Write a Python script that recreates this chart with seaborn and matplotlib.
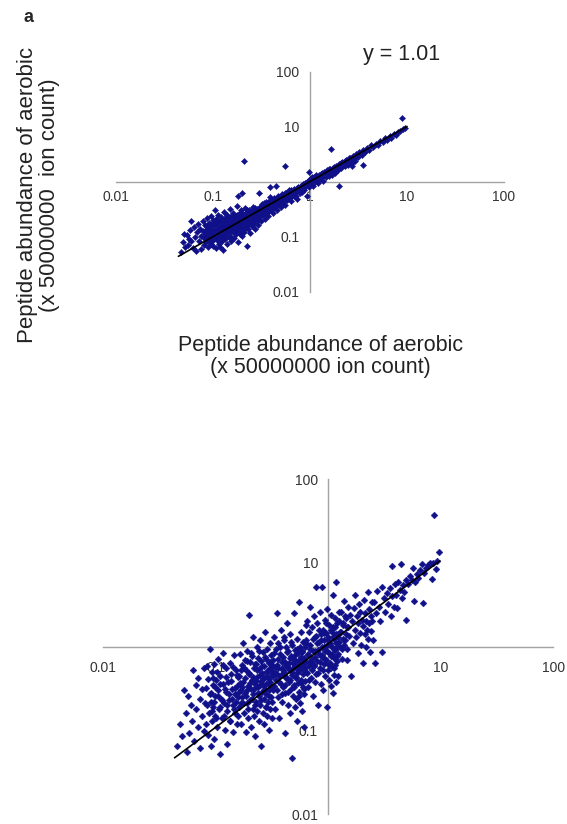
import pandas as pd
import matplotlib
matplotlib.use("Agg")
import matplotlib.pyplot as plt
import matplotlib.ticker as mticker
import seaborn as sns

sns.set_style("white")
plt.rcParams['font.family'] = ['Liberation Sans', 'DejaVu Sans']

# ---- panel a (top): peptide abundance pairs ----
top_low = [(0.047, 0.052), (0.049, 0.080), (0.050, 0.110), (0.052, 0.066), (0.054, 0.108),
           (0.055, 0.072), (0.057, 0.090), (0.058, 0.130), (0.060, 0.195), (0.060, 0.085),
           (0.062, 0.062), (0.064, 0.150), (0.065, 0.100), (0.067, 0.056), (0.068, 0.120),
           (0.070, 0.170), (0.071, 0.082), (0.073, 0.140), (0.075, 0.060), (0.076, 0.105),
           (0.078, 0.190), (0.079, 0.125), (0.081, 0.072), (0.082, 0.160), (0.083, 0.110),
           (0.085, 0.092), (0.086, 0.220), (0.088, 0.140), (0.089, 0.064), (0.090, 0.120),
           (0.091, 0.175), (0.093, 0.082), (0.094, 0.150), (0.096, 0.240), (0.097, 0.100),
           (0.098, 0.130), (0.099, 0.068), (0.100, 0.200), (0.100, 0.115), (0.100, 0.088)]
top_core = [(0.102, 0.160), (0.104, 0.300), (0.105, 0.095), (0.106, 0.135), (0.107, 0.062),
            (0.108, 0.210), (0.110, 0.120), (0.111, 0.175), (0.112, 0.082), (0.113, 0.250),
            (0.115, 0.145), (0.116, 0.105), (0.117, 0.190), (0.118, 0.065), (0.120, 0.135),
            (0.121, 0.230), (0.122, 0.110), (0.124, 0.165), (0.125, 0.085), (0.126, 0.200),
            (0.127, 0.058), (0.128, 0.150), (0.130, 0.280), (0.131, 0.120), (0.132, 0.180),
            (0.134, 0.095), (0.135, 0.215), (0.137, 0.140), (0.138, 0.075), (0.140, 0.170),
            (0.141, 0.250), (0.143, 0.125), (0.145, 0.195), (0.146, 0.100), (0.148, 0.155),
            (0.150, 0.320), (0.151, 0.230), (0.153, 0.135), (0.155, 0.085), (0.156, 0.180),
            (0.158, 0.210), (0.160, 0.120), (0.162, 0.270), (0.164, 0.160), (0.165, 0.095),
            (0.167, 0.195), (0.169, 0.140), (0.171, 0.240), (0.173, 0.110), (0.175, 0.175),
            (0.177, 0.360), (0.179, 0.210), (0.181, 0.150), (0.183, 0.080), (0.185, 0.260),
            (0.187, 0.185), (0.190, 0.125), (0.192, 0.225), (0.194, 0.165), (0.196, 0.300),
            (0.198, 0.105), (0.200, 0.200), (0.203, 0.150), (0.205, 0.250), (0.208, 0.175),
            (0.210, 0.120), (0.212, 0.330), (0.215, 0.220), (0.218, 0.160), (0.220, 0.270),
            (0.223, 0.067), (0.225, 0.190), (0.228, 0.140), (0.230, 0.240), (0.233, 0.300),
            (0.236, 0.175), (0.240, 0.210), (0.243, 0.115), (0.246, 0.260), (0.250, 0.190),
            (0.253, 0.155), (0.256, 0.350), (0.260, 0.230), (0.264, 0.180), (0.268, 0.280),
            (0.272, 0.140), (0.276, 0.215), (0.280, 0.250), (0.284, 0.320), (0.288, 0.200),
            (0.292, 0.165), (0.296, 0.270), (0.200, 0.630), (0.180, 0.540)]
top_mid = [(0.300, 0.230), (0.305, 0.340), (0.310, 0.280), (0.315, 0.190), (0.320, 0.400),
           (0.325, 0.300), (0.330, 0.250), (0.336, 0.360), (0.342, 0.210), (0.348, 0.320),
           (0.354, 0.430), (0.360, 0.290), (0.366, 0.370), (0.372, 0.240), (0.378, 0.330),
           (0.384, 0.520), (0.390, 0.400), (0.397, 0.300), (0.404, 0.360), (0.411, 0.450),
           (0.418, 0.270), (0.425, 0.380), (0.432, 0.470), (0.440, 0.350), (0.448, 0.420),
           (0.456, 0.310), (0.464, 0.560), (0.472, 0.440), (0.480, 0.380), (0.489, 0.500),
           (0.498, 0.420), (0.507, 0.340), (0.516, 0.600), (0.525, 0.480), (0.535, 0.440),
           (0.545, 0.540), (0.555, 0.380), (0.565, 0.620), (0.575, 0.520), (0.586, 0.470),
           (0.597, 0.560), (0.608, 0.700), (0.619, 0.500), (0.630, 0.580), (0.642, 0.440),
           (0.654, 0.660), (0.666, 0.600), (0.678, 0.540), (0.690, 0.750), (0.703, 0.630),
           (0.716, 0.560), (0.729, 0.700), (0.742, 0.480), (0.756, 0.800), (0.770, 0.690),
           (0.784, 0.620), (0.798, 0.850), (0.813, 0.740), (0.828, 0.660), (0.843, 0.900),
           (0.858, 0.800), (0.874, 0.720), (0.890, 0.960), (0.906, 0.840), (0.923, 0.560),
           (0.940, 1.000), (0.957, 0.880), (0.975, 0.800), (0.993, 1.100), (0.390, 0.790),
           (0.450, 0.850), (0.300, 0.620)]
top_dense = [(0.080, 0.095), (0.082, 0.125), (0.084, 0.080), (0.086, 0.150), (0.088, 0.105),
             (0.090, 0.085), (0.092, 0.160), (0.094, 0.115), (0.096, 0.075), (0.098, 0.170),
             (0.101, 0.125), (0.103, 0.090), (0.106, 0.180), (0.108, 0.135), (0.110, 0.100),
             (0.113, 0.155), (0.115, 0.075), (0.117, 0.205), (0.119, 0.128), (0.122, 0.095),
             (0.124, 0.185), (0.126, 0.140), (0.129, 0.105), (0.131, 0.160), (0.133, 0.090),
             (0.136, 0.230), (0.138, 0.165), (0.141, 0.115), (0.143, 0.150), (0.146, 0.205),
             (0.148, 0.120), (0.151, 0.175), (0.154, 0.100), (0.157, 0.240), (0.160, 0.150),
             (0.163, 0.190), (0.166, 0.120), (0.169, 0.225), (0.172, 0.165), (0.175, 0.135),
             (0.178, 0.250), (0.182, 0.190), (0.185, 0.145), (0.189, 0.215), (0.192, 0.110),
             (0.196, 0.280), (0.200, 0.175), (0.204, 0.230), (0.208, 0.140), (0.212, 0.260),
             (0.216, 0.195), (0.220, 0.155), (0.225, 0.300), (0.229, 0.215), (0.234, 0.170),
             (0.238, 0.270), (0.243, 0.200), (0.248, 0.230), (0.253, 0.300), (0.258, 0.180),
             (0.263, 0.260), (0.268, 0.215), (0.274, 0.330), (0.279, 0.240), (0.285, 0.200),
             (0.291, 0.300), (0.297, 0.230), (0.303, 0.270), (0.310, 0.360), (0.317, 0.250),
             (0.324, 0.330), (0.331, 0.280), (0.339, 0.410), (0.346, 0.300), (0.354, 0.360),
             (0.362, 0.270), (0.370, 0.420), (0.378, 0.350), (0.387, 0.310), (0.396, 0.460),
             (0.405, 0.380), (0.415, 0.330), (0.425, 0.500), (0.435, 0.410), (0.446, 0.370),
             (0.457, 0.470), (0.468, 0.400), (0.480, 0.520), (0.492, 0.450), (0.505, 0.560),
             (0.518, 0.470), (0.532, 0.420), (0.546, 0.610), (0.560, 0.500), (0.575, 0.560),
             (0.590, 0.650), (0.606, 0.540), (0.622, 0.620), (0.639, 0.700), (0.656, 0.580),
             (0.674, 0.650), (0.692, 0.720), (0.711, 0.640), (0.731, 0.780), (0.751, 0.700),
             (0.772, 0.760), (0.794, 0.690), (0.816, 0.820), (0.839, 0.760), (0.862, 0.880),
             (0.886, 0.810), (0.911, 0.930), (0.937, 0.870), (0.963, 1.020), (0.990, 0.930)]
top_high = [(1.02, 0.95), (1.04, 1.20), (1.06, 1.05), (1.08, 0.85), (1.10, 1.15), (1.13, 1.00),
            (1.15, 1.30), (1.18, 1.10), (1.20, 0.95), (1.23, 1.25), (1.26, 1.12), (1.29, 1.40),
            (1.32, 1.20), (1.35, 1.05), (1.38, 1.50), (1.41, 1.30), (1.45, 1.20), (1.48, 1.60),
            (1.52, 1.40), (1.56, 1.25), (1.60, 1.70), (1.64, 1.50), (1.68, 1.35), (1.72, 1.80),
            (1.76, 1.60), (1.80, 1.45), (1.85, 1.95), (1.90, 1.75), (1.95, 1.60), (2.00, 2.10),
            (2.05, 1.90), (2.10, 1.75), (2.16, 2.30), (2.22, 2.05), (2.28, 1.90), (2.34, 2.50),
            (2.40, 2.25), (2.47, 2.05), (2.54, 2.70), (2.61, 2.40), (2.68, 2.20), (2.76, 2.90),
            (2.84, 2.60), (2.92, 2.40), (1.01, 1.08), (1.05, 0.98), (1.09, 1.20), (1.12, 1.08),
            (1.17, 1.22), (1.21, 1.10), (1.25, 1.35), (1.30, 1.25), (1.34, 1.42), (1.40, 1.35),
            (1.46, 1.52), (1.51, 1.45), (1.57, 1.68), (1.63, 1.58), (1.70, 1.62), (1.78, 1.85),
            (1.87, 1.80), (1.97, 2.00), (2.07, 2.15), (2.19, 2.12), (2.31, 2.35), (2.45, 2.40),
            (2.60, 2.65), (2.80, 2.75)]
top_tail = [(3.0, 3.2), (3.1, 2.8), (3.2, 3.5), (3.4, 3.1), (3.5, 3.8), (3.7, 3.4), (3.9, 4.1),
            (4.1, 3.7), (4.3, 4.6), (4.5, 4.2), (4.8, 4.9), (5.0, 4.6), (5.3, 5.5), (5.6, 5.2),
            (5.9, 6.1), (6.2, 5.7), (6.6, 6.9), (6.9, 6.2), (7.3, 7.4), (7.7, 7.2), (8.1, 8.0),
            (8.5, 8.3), (9.1, 9.2), (9.5, 9.6)]
top_outliers = [(0.21, 2.4), (0.55, 1.9), (0.98, 1.5), (1.63, 3.9), (2.0, 0.82), (2.7, 1.9),
                (3.5, 1.98), (8.8, 14.4)]
top_fit_x = [0.044, 10.0]
top_fit_y = [0.044, 10.1]

# ---- bottom panel ----
bot_left = [(0.045, 0.065), (0.048, 0.12), (0.050, 0.085), (0.052, 0.30), (0.054, 0.16),
            (0.055, 0.055), (0.057, 0.26), (0.058, 0.093), (0.060, 0.20), (0.061, 0.13),
            (0.063, 0.53), (0.064, 0.075), (0.066, 0.35), (0.067, 0.18), (0.069, 0.11),
            (0.070, 0.42), (0.072, 0.062), (0.073, 0.24), (0.075, 0.15), (0.076, 0.31),
            (0.078, 0.098), (0.079, 0.55), (0.080, 0.21)]
bot_low = [(0.081, 0.32), (0.082, 0.12), (0.083, 0.58), (0.084, 0.20), (0.085, 0.088),
           (0.086, 0.41), (0.087, 0.16), (0.088, 0.27), (0.089, 0.93), (0.090, 0.065),
           (0.091, 0.22), (0.092, 0.50), (0.093, 0.13), (0.094, 0.35), (0.095, 0.19),
           (0.096, 0.078), (0.097, 0.62), (0.098, 0.26), (0.099, 0.15), (0.100, 0.40),
           (0.102, 0.11), (0.104, 0.30), (0.105, 0.72), (0.107, 0.18), (0.108, 0.052),
           (0.110, 0.45), (0.112, 0.24), (0.113, 0.14), (0.115, 0.36), (0.117, 0.85),
           (0.118, 0.21), (0.120, 0.10), (0.122, 0.55), (0.124, 0.29), (0.125, 0.17),
           (0.127, 0.068), (0.129, 0.38), (0.131, 0.23), (0.133, 0.64), (0.135, 0.13),
           (0.137, 0.47), (0.139, 0.31), (0.141, 0.20), (0.143, 0.095), (0.145, 0.80),
           (0.147, 0.27), (0.149, 0.16), (0.151, 0.52), (0.153, 0.34), (0.155, 0.12),
           (0.157, 0.43), (0.159, 0.25)]
bot_core = [(0.160, 0.45), (0.162, 0.19), (0.164, 0.82), (0.166, 0.30), (0.168, 0.12),
            (0.170, 0.60), (0.172, 0.25), (0.174, 1.1), (0.176, 0.38), (0.178, 0.16),
            (0.180, 0.70), (0.182, 0.28), (0.184, 0.095), (0.186, 0.52), (0.188, 0.21),
            (0.190, 0.90), (0.192, 0.34), (0.194, 0.14), (0.196, 0.47), (0.198, 2.4),
            (0.200, 0.23), (0.202, 0.65), (0.204, 0.31), (0.206, 0.11), (0.208, 0.78),
            (0.210, 0.40), (0.212, 0.18), (0.214, 1.3), (0.216, 0.27), (0.218, 0.56),
            (0.220, 0.15), (0.222, 0.36), (0.224, 0.085), (0.226, 0.62), (0.228, 0.22),
            (0.230, 0.99), (0.232, 0.43), (0.234, 0.17), (0.236, 0.33), (0.238, 0.74),
            (0.240, 0.26), (0.242, 0.13), (0.244, 0.54), (0.246, 0.20), (0.248, 1.2),
            (0.250, 0.39), (0.252, 0.065), (0.254, 0.68), (0.256, 0.29), (0.258, 0.48),
            (0.260, 0.16), (0.262, 0.87), (0.264, 0.35), (0.266, 0.24), (0.268, 0.58),
            (0.270, 0.12), (0.272, 0.44), (0.274, 1.5), (0.276, 0.31), (0.278, 0.19),
            (0.280, 0.72), (0.282, 0.27), (0.284, 0.51), (0.286, 0.15), (0.288, 0.95),
            (0.290, 0.37), (0.292, 0.22), (0.294, 0.64), (0.296, 0.10), (0.298, 0.41),
            (0.300, 0.30), (0.302, 1.1), (0.304, 0.18), (0.306, 0.55), (0.308, 0.25),
            (0.310, 0.80), (0.312, 0.34), (0.314, 0.14), (0.316, 0.60), (0.318, 0.47)]
bot_mid = [(0.320, 0.70), (0.324, 0.30), (0.328, 1.3), (0.332, 0.48), (0.336, 0.18),
           (0.340, 0.95), (0.344, 0.40), (0.348, 2.5), (0.352, 0.60), (0.356, 0.25),
           (0.360, 1.1), (0.364, 0.45), (0.368, 0.14), (0.372, 0.82), (0.376, 0.36),
           (0.380, 1.6), (0.384, 0.55), (0.388, 0.22), (0.392, 0.75), (0.396, 0.33),
           (0.400, 1.2), (0.404, 0.50), (0.408, 0.092), (0.412, 0.66), (0.416, 0.28),
           (0.420, 1.0), (0.424, 0.42), (0.428, 1.9), (0.432, 0.58), (0.436, 0.20),
           (0.440, 0.88), (0.444, 0.38), (0.448, 0.63), (0.452, 0.16), (0.456, 1.4),
           (0.460, 0.52), (0.464, 0.31), (0.468, 0.78), (0.472, 0.047), (0.476, 0.46),
           (0.480, 1.05), (0.484, 0.26), (0.488, 0.72), (0.492, 0.35), (0.496, 2.5),
           (0.500, 0.57), (0.504, 0.19), (0.508, 0.92), (0.512, 0.43), (0.516, 0.68),
           (0.520, 0.24), (0.524, 1.25), (0.528, 0.49), (0.532, 0.13), (0.536, 0.84),
           (0.540, 0.37), (0.544, 0.60), (0.548, 3.4), (0.552, 0.29), (0.556, 0.98),
           (0.560, 0.53), (0.564, 0.21), (0.568, 0.76), (0.572, 0.40), (0.576, 1.5),
           (0.580, 0.62), (0.584, 0.17), (0.588, 0.86), (0.592, 0.33), (0.596, 1.15),
           (0.600, 0.47), (0.604, 0.27), (0.608, 0.70), (0.612, 0.11), (0.616, 1.0),
           (0.620, 0.56), (0.624, 0.39), (0.628, 1.8)]
bot_upper = [(0.630, 1.1), (0.638, 0.50), (0.646, 2.0), (0.654, 0.80), (0.662, 0.33),
             (0.670, 1.5), (0.678, 0.65), (0.686, 3.0), (0.694, 0.95), (0.702, 0.42),
             (0.710, 1.7), (0.718, 0.72), (0.726, 0.26), (0.734, 1.25), (0.742, 0.58),
             (0.750, 2.3), (0.758, 0.88), (0.766, 0.38), (0.774, 1.35), (0.782, 5.1),
             (0.790, 0.68), (0.798, 1.9), (0.806, 0.48), (0.814, 0.20), (0.822, 1.15),
             (0.830, 0.82), (0.838, 2.6), (0.846, 0.55), (0.854, 1.4), (0.862, 0.36),
             (0.870, 1.0), (0.878, 5.1), (0.886, 0.75), (0.894, 1.6), (0.902, 0.30),
             (0.910, 1.2), (0.918, 0.62), (0.926, 2.1), (0.934, 0.90), (0.942, 0.45),
             (0.950, 1.45), (0.958, 0.70), (0.966, 0.19), (0.974, 1.05), (0.982, 2.8),
             (0.990, 0.52), (0.998, 1.3), (1.006, 0.85), (1.014, 0.40), (1.022, 1.8),
             (1.030, 0.64), (1.038, 1.1), (1.046, 0.34), (1.054, 2.4), (1.062, 0.78),
             (1.070, 1.5), (1.078, 0.57), (1.086, 0.98), (1.094, 0.28), (1.102, 1.7),
             (1.110, 4.2), (1.118, 0.73), (1.126, 1.25), (1.134, 0.46), (1.142, 2.2),
             (1.150, 0.92), (1.158, 0.60), (1.166, 1.4), (1.174, 0.38), (1.182, 5.9),
             (1.190, 1.0), (1.198, 0.67), (1.206, 1.9), (1.214, 0.45), (1.222, 1.3),
             (1.230, 0.82), (1.238, 2.6), (1.246, 1.15)]
bot_dense = [(0.090, 0.28), (0.092, 0.17), (0.094, 0.42), (0.096, 0.22), (0.098, 0.33),
             (0.100, 0.14), (0.103, 0.50), (0.105, 0.26), (0.108, 0.19), (0.110, 0.36),
             (0.113, 0.23), (0.116, 0.60), (0.118, 0.15), (0.121, 0.31), (0.124, 0.44),
             (0.127, 0.20), (0.130, 0.27), (0.133, 0.13), (0.136, 0.39), (0.139, 0.24),
             (0.142, 0.57), (0.145, 0.18), (0.148, 0.32), (0.151, 0.22), (0.154, 0.46),
             (0.157, 0.15), (0.160, 0.29), (0.163, 0.37), (0.166, 0.21), (0.169, 0.53),
             (0.172, 0.33), (0.175, 0.21), (0.178, 0.55), (0.181, 0.42), (0.184, 0.26),
             (0.188, 0.68), (0.191, 0.30), (0.195, 0.18), (0.198, 0.48), (0.202, 0.37),
             (0.206, 0.85), (0.209, 0.24), (0.213, 0.44), (0.217, 0.31), (0.221, 0.62),
             (0.225, 0.20), (0.229, 0.39), (0.233, 0.53), (0.237, 0.28), (0.241, 0.90),
             (0.245, 0.35), (0.249, 0.46), (0.254, 0.23), (0.258, 0.59), (0.263, 0.41),
             (0.267, 0.30), (0.272, 0.75), (0.277, 0.36), (0.281, 0.19), (0.286, 0.50),
             (0.291, 0.43), (0.296, 0.26), (0.301, 0.66), (0.306, 0.38), (0.311, 0.52),
             (0.316, 0.22), (0.321, 0.45), (0.326, 0.83), (0.331, 0.34), (0.336, 0.57),
             (0.342, 0.48), (0.348, 0.30), (0.354, 0.72), (0.360, 0.55), (0.366, 0.38),
             (0.372, 1.0), (0.378, 0.46), (0.384, 0.27), (0.391, 0.65), (0.397, 0.52),
             (0.404, 1.3), (0.410, 0.35), (0.417, 0.60), (0.424, 0.44), (0.431, 0.86),
             (0.438, 0.29), (0.446, 0.54), (0.453, 0.73), (0.461, 0.40), (0.469, 1.15),
             (0.477, 0.50), (0.485, 0.63), (0.493, 0.33), (0.501, 0.80), (0.510, 0.58),
             (0.518, 0.42), (0.527, 0.95), (0.536, 0.52), (0.545, 0.26), (0.554, 0.70),
             (0.564, 0.61), (0.573, 0.37), (0.583, 0.90), (0.593, 0.55), (0.603, 0.74),
             (0.613, 0.31), (0.624, 0.63), (0.634, 1.2), (0.645, 0.48), (0.656, 0.81),
             (0.667, 0.58), (0.679, 0.40), (0.690, 1.05), (0.702, 0.66), (0.714, 0.52),
             (0.726, 0.88), (0.740, 0.60), (0.754, 1.3), (0.768, 0.75), (0.782, 0.47),
             (0.797, 1.1), (0.812, 0.92), (0.827, 1.6), (0.842, 0.66), (0.858, 1.2),
             (0.874, 0.80), (0.890, 0.52), (0.907, 1.45), (0.924, 1.0), (0.941, 0.72),
             (0.959, 1.9), (0.977, 0.88), (0.995, 1.2), (1.014, 0.60), (1.033, 1.05),
             (1.052, 1.6), (1.072, 0.82), (1.092, 1.3), (1.112, 0.95), (1.133, 0.55),
             (1.154, 1.7), (1.176, 1.1), (1.198, 0.78), (1.220, 1.4), (1.243, 2.0),
             (1.266, 1.0), (1.290, 1.5), (1.314, 0.72), (1.339, 1.25), (1.364, 1.8),
             (1.389, 1.05), (1.415, 2.3), (1.442, 1.4), (1.469, 0.95), (1.496, 1.7)]
bot_high = [(1.26, 1.5), (1.29, 2.6), (1.32, 0.95), (1.34, 1.9), (1.37, 3.5), (1.40, 1.2),
            (1.43, 2.2), (1.46, 0.70), (1.48, 1.7), (1.51, 3.0), (1.54, 1.35), (1.57, 2.4),
            (1.60, 0.45), (1.62, 2.0), (1.65, 1.1), (1.68, 2.9), (1.71, 1.6), (1.74, 4.2),
            (1.76, 1.3), (1.79, 2.3), (1.82, 0.85), (1.85, 1.9), (1.88, 3.2), (1.90, 1.45),
            (1.93, 2.6), (1.96, 1.05), (1.99, 2.1), (2.02, 0.63), (2.04, 1.75), (2.07, 3.6),
            (2.10, 1.4), (2.13, 2.5), (2.16, 0.98), (2.18, 2.0), (2.21, 1.6), (2.24, 4.5),
            (2.27, 1.25), (2.30, 2.8), (2.32, 1.9), (2.35, 0.87), (2.38, 2.3), (2.41, 1.55),
            (2.44, 3.4), (2.46, 2.0), (2.49, 1.2)]
bot_tail = [(2.55, 3.4), (2.6, 0.63), (2.65, 2.5), (2.7, 4.6), (2.8, 3.0), (2.9, 2.0), (3.0, 5.2),
            (3.0, 0.87), (3.1, 3.8), (3.2, 2.6), (3.3, 4.4), (3.4, 3.2), (3.5, 5.0), (3.6, 2.3),
            (3.66, 9.1), (3.7, 4.0), (3.8, 3.0), (3.9, 5.6), (4.0, 4.2), (4.1, 2.9), (4.2, 6.0),
            (4.3, 4.8), (4.4, 9.7), (4.5, 3.8), (4.6, 5.4), (4.75, 4.5), (4.9, 2.06), (4.95, 6.3),
            (5.1, 5.6), (5.3, 7.0), (5.5, 6.2), (5.7, 8.7), (5.8, 3.55), (5.9, 5.9), (6.1, 7.4),
            (6.3, 6.6), (6.5, 8.2), (6.8, 9.7), (7.0, 3.36), (7.1, 7.6), (7.4, 8.8), (7.7, 9.4),
            (8.0, 9.9), (8.3, 6.5), (8.5, 10.0), (8.7, 37.7), (9.0, 8.4), (9.3, 10.5), (9.7, 13.4)]
bot_fit_x = [0.043, 9.8]
bot_fit_y = [0.047, 10.6]

tick_vals = [0.01, 0.1, 1, 10, 100]
tick_text = ["0.01", "0.1", "1", "10", "100"]
ytick_vals = [0.01, 0.1, 10, 100]
ytick_text = ["0.01", "0.1", "10", "100"]

axis_label = "Peptide abundance of aerobic\n(x 50000000 ion count)"
y_label = "Peptide abundance of aerobic\n(x 50000000  ion count)"


def to_frame(*groups):
    pts = [p for g in groups for p in g]
    return pd.DataFrame(pts, columns=["aerobic", "other"])


top_df = to_frame(top_low, top_core, top_mid, top_dense, top_high, top_tail, top_outliers)
bot_df = to_frame(bot_left, bot_low, bot_core, bot_mid, bot_upper, bot_dense, bot_high, bot_tail)

navy = "#10108a"
grey = "#a3a3a3"

fig = plt.figure(figsize=(5.67, 8.24), dpi=100)
ax1 = fig.add_axes([0.2046, 0.646, 0.6843, 0.267])
ax2 = fig.add_axes([0.1822, 0.0121, 0.7937, 0.4062])

panels = [(ax1, top_df, top_fit_x, top_fit_y, 10, 6),
          (ax2, bot_df, bot_fit_x, bot_fit_y, 12, 10)]

for ax, df, fx, fy, msize, xpad in panels:
    sns.scatterplot(data=df, x="aerobic", y="other", ax=ax, marker="D", s=msize,
                    color=navy, edgecolor=navy, linewidth=0.3, zorder=3, legend=False)
    sns.lineplot(x=fx, y=fy, ax=ax, color="black", linewidth=1.2, zorder=4, estimator=None)
    ax.set_xscale("log")
    ax.set_yscale("log")
    ax.set_xlim(0.01, 100)
    ax.set_ylim(0.01, 100)
    ax.set_xticks(tick_vals, tick_text)
    ax.set_yticks(ytick_vals, ytick_text)
    ax.xaxis.set_minor_locator(mticker.NullLocator())
    ax.yaxis.set_minor_locator(mticker.NullLocator())
    ax.spines["left"].set_position(("data", 1))
    ax.spines["bottom"].set_position(("data", 1))
    ax.spines["top"].set_visible(False)
    ax.spines["right"].set_visible(False)
    for side in ["left", "bottom"]:
        ax.spines[side].set_color(grey)
        ax.spines[side].set_linewidth(1.0)
    ax.tick_params(axis="x", direction="in", length=3, width=1, color=grey,
                   pad=xpad, labelsize=10, labelcolor="#333333")
    ax.tick_params(axis="y", direction="out", length=3, width=1, color=grey,
                   pad=4.5, labelsize=10, labelcolor="#333333")
    ax.set_xlabel("")
    ax.set_ylabel("")
    ax.set_facecolor("none")

# labels of panel a
ax1.set_xlabel(axis_label, fontsize=15.5, color="#222222", va="center", linespacing=1.05)
ax1.xaxis.set_label_coords(0.528, -0.2945)
ax1.set_ylabel(y_label, fontsize=16, color="#222222", va="center", linespacing=1.05)
ax1.yaxis.set_label_coords(-0.2, 0.44)
ax1.text(0.737, 1.076, "y = 1.01", transform=ax1.transAxes, fontsize=15.5,
         ha="center", va="center", color="#222222")
fig.text(28.5 / 567, 1 - 18 / 824, "a", fontsize=13, fontweight="bold",
         ha="center", va="center")

fig.savefig("out.png", dpi=100)
